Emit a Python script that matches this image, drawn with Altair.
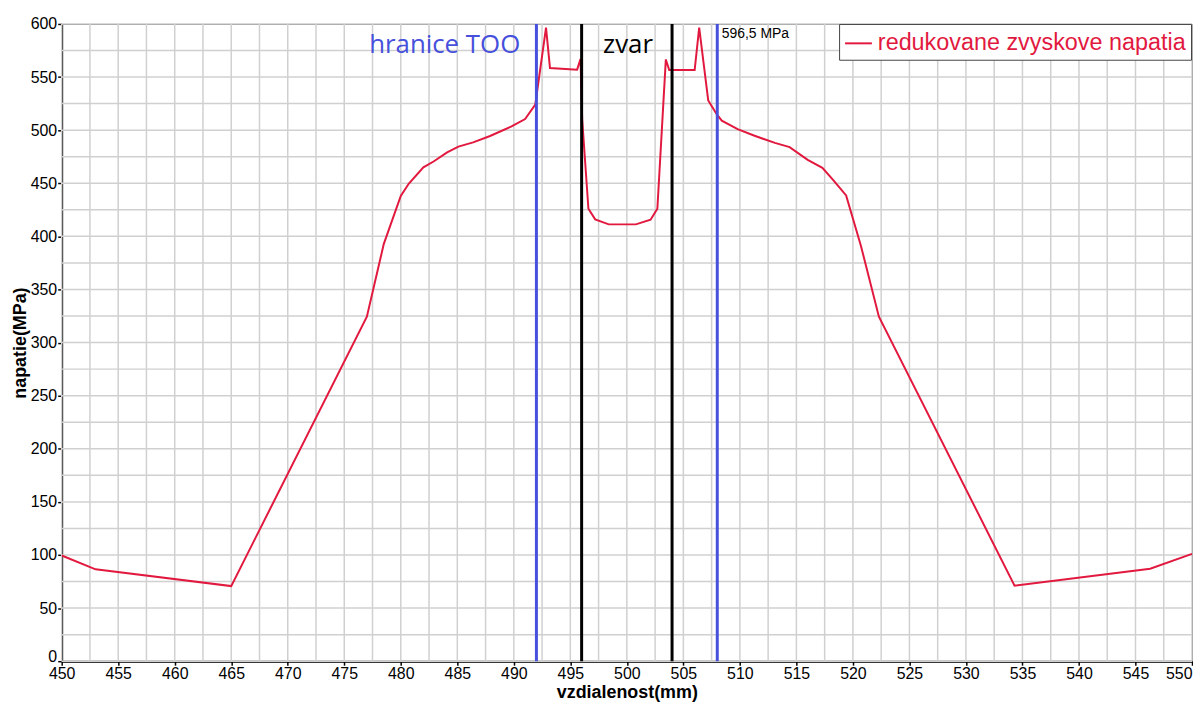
import altair as alt
import pandas as pd

# ---- data ----
dist_mm = [450, 453, 465, 477.0, 478.5, 480.0, 480.7, 482.0, 482.9, 484.1, 485.1, 486.4, 487.9,
           489.8, 491.0, 491.9, 492.85, 493.2, 495.6, 495.9, 496.05, 496.6, 497.2,
           498.4, 500.8, 502.1, 502.7, 503.45, 503.75, 506.0, 506.4, 507.2, 507.95,
           508.4, 509.8, 511.3, 513.1, 514.4, 516.0, 517.3, 518.3, 519.4, 520.7,
           522.3, 534.3, 546.3, 550]
stress_mpa = [99.5, 86.5, 70.7, 324.4, 393, 438, 449.5, 465, 470.5, 479, 484.5, 488.5, 494.5,
              503.5, 510.5, 524, 596.5, 558.5, 557, 567, 510, 426, 416,
              411.3, 411.3, 415.7, 426, 566.6, 556.6, 556.6, 596.5, 528, 515,
              509, 501, 494.7, 488, 484, 472, 464.5, 452.5, 438.5, 391.5,
              324.4, 71.2, 87, 101]
series_name = "redukovane zvyskove napatia"
too_bounds = [492, 508]
weld_bounds = [496, 504]
x_grid = [450 + 2.5 * i for i in range(41)]
y_grid = [25 * i for i in range(25)]
x_labels = [450 + 5 * i for i in range(21)]
y_labels = [50 * i for i in range(13)]

RED = "#e2193f"
BLUE = "#4650dc"
GRID = "#d0d0d0"

df = pd.DataFrame({"x": dist_mm, "y": stress_mpa, "s": [series_name] * len(dist_mm)})
too_df = pd.DataFrame({"x": too_bounds})
weld_df = pd.DataFrame({"x": weld_bounds})
xgrid_df = pd.DataFrame({"x": x_grid})
ygrid_df = pd.DataFrame({"y": y_grid})

xscale = alt.Scale(domain=[450, 550], nice=False, zero=False)
yscale = alt.Scale(domain=[0, 600], nice=False)

xaxis = alt.Axis(
    values=x_labels,
    labelAlign={"condition": {"test": "datum.value === 550", "value": "right"}, "value": "center"},
    labelFlush=False,
    labelOverlap=False,
    grid=False,
    tickSize=4,
    labelPadding=0,
    title="vzdialenost(mm)",
    titleY=37,
    titleBaseline="alphabetic",
)
yaxis = alt.Axis(
    values=y_labels,
    labelBaseline={"condition": {"test": "datum.value === 0", "value": "alphabetic"}, "value": "middle"},
    labelOverlap=False,
    labelFlush=False,
    grid=False,
    tickSize=4,
    labelPadding=1,
    title="napatie(MPa)",
    titleX=-36,
    titleBaseline="alphabetic",
)

xgrid = alt.Chart(xgrid_df).mark_rule(color=GRID, strokeWidth=1.5).encode(
    x=alt.X("x:Q", scale=xscale, axis=xaxis)
)
ygrid = alt.Chart(ygrid_df).mark_rule(color=GRID, strokeWidth=1.5).encode(
    y=alt.Y("y:Q", scale=yscale, axis=yaxis)
)

line = alt.Chart(df).mark_line(strokeWidth=2, clip=True).encode(
    x=alt.X("x:Q", scale=xscale, axis=xaxis),
    y=alt.Y("y:Q", scale=yscale, axis=yaxis),
    color=alt.Color(
        "s:N",
        scale=alt.Scale(domain=[series_name], range=[RED]),
        legend=alt.Legend(
            title=None,
            orient="none",
            legendX=782,
            legendY=0,
            strokeColor="#444444",
            fillColor="white",
            padding=5,
            symbolType="stroke",
            symbolSize=729,
            symbolStrokeWidth=2,
            labelFontSize=23.5,
            labelColor=RED,
            labelFont="Liberation Sans",
            labelOffset=5,
            labelLimit=0,
            cornerRadius=0,
        ),
    ),
)

too_rules = alt.Chart(too_df).mark_rule(color=BLUE, strokeWidth=3).encode(x=alt.X("x:Q", scale=xscale))
weld_rules = alt.Chart(weld_df).mark_rule(color="black", strokeWidth=3).encode(x=alt.X("x:Q", scale=xscale))

txt_too = alt.Chart().mark_text(
    text="hranice TOO", font="Open Sans", fontSize=26, color=BLUE, align="left", baseline="alphabetic"
).encode(x=alt.datum(477.2, scale=xscale), y=alt.datum(572.5, scale=yscale))
txt_weld = alt.Chart().mark_text(
    text="zvar", font="Open Sans", fontSize=26, color="black", align="left", baseline="alphabetic"
).encode(x=alt.datum(497.9, scale=xscale), y=alt.datum(572.5, scale=yscale))
txt_peak = alt.Chart().mark_text(
    text="596,5 MPa", font="Liberation Sans", fontSize=14, color="black", align="left", baseline="alphabetic"
).encode(x=alt.datum(508.4, scale=xscale), y=alt.datum(587, scale=yscale))

chart = alt.layer(xgrid, ygrid, line, too_rules, weld_rules, txt_too, txt_weld, txt_peak).properties(
    width=1137,
    height=641,
    autosize=alt.AutoSizeParams(type="none"),
    padding={"left": 54, "top": 14, "right": 1, "bottom": 40},
).configure_view(
    stroke="#444444", strokeWidth=1
).configure_axis(
    domainColor="black",
    domainWidth=2,
    tickColor="black",
    tickWidth=1.5,
    labelFont="Liberation Sans",
    labelFontSize=16,
    labelColor="black",
    titleFont="Liberation Sans",
    titleFontSize=18,
    titleFontWeight="bold",
    titleColor="black",
)

chart.save("out.html", embed_options={"renderer": "svg", "actions": False})
